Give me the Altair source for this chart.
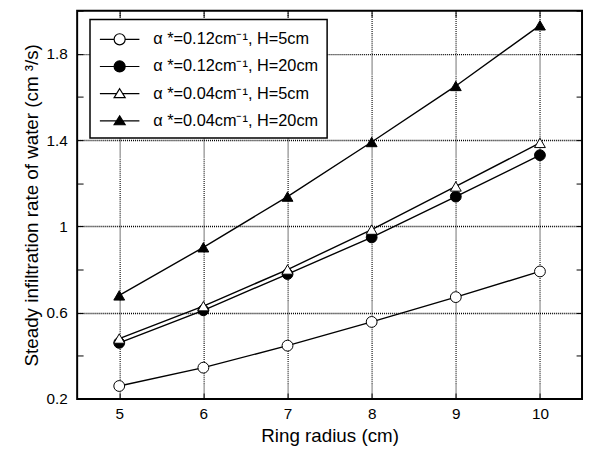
import altair as alt
import pandas as pd

radius = [5, 6, 7, 8, 9, 10]
series_names = [
    "α *=0.12cm⁻¹, H=5cm",
    "α *=0.12cm⁻¹, H=20cm",
    "α *=0.04cm⁻¹, H=5cm",
    "α *=0.04cm⁻¹, H=20cm",
]
s1 = [0.260, 0.345, 0.447, 0.557, 0.672, 0.791]
s2 = [0.460, 0.611, 0.779, 0.949, 1.138, 1.330]
s3 = [0.480, 0.630, 0.800, 0.985, 1.185, 1.387]
s4 = [0.680, 0.903, 1.138, 1.391, 1.651, 1.932]

y_ticks = [0.2, 0.4, 0.6, 0.8, 1.0, 1.2, 1.4, 1.6, 1.8, 2.0]
x_ticks = [5, 6, 7, 8, 9, 10]

point_shapes = ["circle", "circle", "triangle-up", "triangle-up"]
fills = ["white", "black", "white", "black"]
strokes = ["black", "black", "black", "black"]
CIRCLE_PATH = "M-2,0H-0.56M0.56,0H2M-0.56,0A0.56,0.56,0,1,1,0.56,0A0.56,0.56,0,1,1,-0.56,0Z"
TRI_PATH = "M-2,0H-0.31M0.31,0H2M0,-0.5L0.56,0.4L-0.56,0.4Z"
legend_shapes = [CIRCLE_PATH, CIRCLE_PATH, TRI_PATH, TRI_PATH]

rows = []
for k, (name, vals) in enumerate(zip(series_names, [s1, s2, s3, s4])):
    for r, v in zip(radius, vals):
        rows.append({"radius": r, "rate": v, "series": name, "k": k})
df = pd.DataFrame(rows)

FONT = "Liberation Sans"
xscale = alt.Scale(domain=[4.5, 10.5], nice=False, zero=False)
yscale = alt.Scale(domain=[0.2, 2.0], nice=False, zero=False)

major_test = "round(datum.value*10) % 4 == 2"
grid_y_test = "round(datum.value*10) % 4 == 2 && datum.value > 0.3"

x_bottom = alt.Axis(
    orient="bottom", values=x_ticks, title="Ring radius (cm)", offset=-6,
    tickSize=6, tickColor="black", tickWidth=1, domain=False, labelPadding=8,
    labelFont=FONT, labelFontSize=15.5, labelColor="black",
    titleFont=FONT, titleFontSize=19, titleFontWeight="normal", titleColor="black",
    titlePadding=5, grid=True, gridDash=[1, 1], gridColor="black", gridWidth=1.1,
    gridOpacity=1,
)
y_left = alt.Axis(
    orient="left", values=y_ticks, title="Steady infiltration rate of water (cm ³/s)",
    offset=-6, tickSize=6, tickColor="black", tickWidth=1, domain=False,
    labelPadding=10, labelFont=FONT, labelFontSize=15.5, labelColor="black",
    labelExpr=f"({major_test}) ? format(datum.value, '~g') : ''",
    titleFont=FONT, titleFontSize=19, titleFontWeight="normal", titleColor="black",
    titlePadding=5, grid=True, gridDash=[1, 1], gridColor="black", gridWidth=1.5,
    gridOpacity={"condition": {"test": grid_y_test, "value": 1}, "value": 0},
)
x_top = alt.Axis(
    orient="top", values=x_ticks, title=None, offset=-6, tickSize=6,
    tickColor="black", tickWidth=1, domain=False, labels=False, grid=False,
)
y_right = alt.Axis(
    orient="right", values=y_ticks, title=None, offset=-6, tickSize=6,
    tickColor="black", tickWidth=1, domain=False, labels=False, grid=False,
)

legend = alt.Legend(
    title=None, orient="none", legendX=13, legendY=9,
    strokeColor="black", fillColor="white", padding=9,
    labelFont=FONT, labelFontSize=16.5, labelColor="black", labelOffset=23,
    symbolSize=400, symbolOffset=10, symbolStrokeWidth=1.2, symbolStrokeColor="black",
    rowPadding=7.5, labelLimit=400,
)

base = alt.Chart(df)

lines = base.mark_line(color="black", strokeWidth=1.4).encode(
    x=alt.X("radius:Q", scale=xscale, axis=x_bottom),
    y=alt.Y("rate:Q", scale=yscale, axis=y_left),
    detail="series:N",
)

points = base.mark_point(stroke="black", strokeWidth=1, size=120, opacity=1).encode(
    x=alt.X("radius:Q", scale=xscale, axis=x_top),
    y=alt.Y("rate:Q", scale=yscale, axis=y_right),
    shape=alt.Shape("series:N", scale=alt.Scale(domain=series_names, range=point_shapes), legend=None),
    fill=alt.Fill("series:N", scale=alt.Scale(domain=series_names, range=fills), legend=None),
    order=alt.Order("k:Q"),
)

legend_layer = base.transform_filter("false").mark_point(
    strokeWidth=1.2, size=400, opacity=1
).encode(
    x=alt.X("radius:Q", scale=xscale, axis=None),
    y=alt.Y("rate:Q", scale=yscale, axis=None),
    shape=alt.Shape("series:N", scale=alt.Scale(domain=series_names, range=legend_shapes), legend=legend),
    fill=alt.Fill("series:N", scale=alt.Scale(domain=series_names, range=fills), legend=legend),
    stroke=alt.Stroke("series:N", scale=alt.Scale(domain=series_names, range=strokes), legend=legend),
)

chart = alt.layer(lines, points, legend_layer).resolve_scale(
    shape="independent", fill="independent", stroke="independent"
).resolve_axis(
    x="independent", y="independent"
).properties(
    width=511, height=393,
    autosize=alt.AutoSizeParams(type="none"),
    padding={"left": 70, "top": 0, "right": 2, "bottom": 50},
).configure_view(
    stroke="black", strokeWidth=2
).configure_legend(
    strokeWidth=1.5
)

chart.save("out.html", embed_options={"renderer": "svg", "actions": False})
